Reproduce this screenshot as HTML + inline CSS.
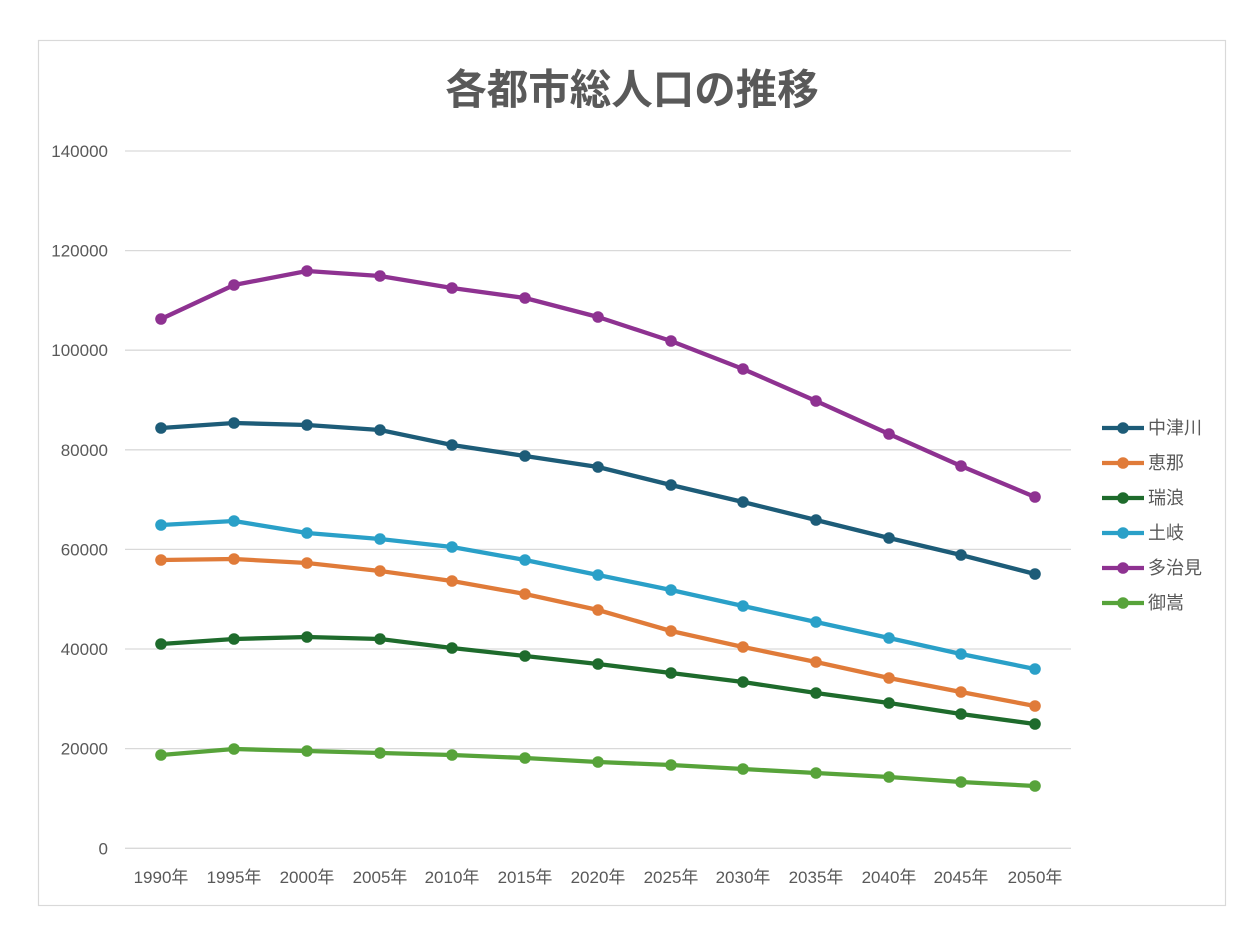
<!DOCTYPE html>
<html>
<head>
<meta charset="utf-8">
<style>
  html,body{margin:0;padding:0;background:#fff;}
  svg{display:block;}
  text{font-family:"Liberation Sans","Noto Sans CJK JP",sans-serif;fill:#595959;}
</style>
</head>
<body>
<svg width="1247" height="930" viewBox="0 0 1247 930" xmlns="http://www.w3.org/2000/svg">
  <rect x="0" y="0" width="1247" height="930" fill="#fff"/>
  <rect x="38.5" y="40.5" width="1187" height="865" fill="#fff" stroke="#d9d9d9" stroke-width="1.2"/>
  <text x="632" y="104" text-anchor="middle" font-size="41.5" font-weight="bold" style="font-family:'Noto Sans CJK JP','Liberation Sans',sans-serif;fill:#595959">各都市総人口の推移</text>

  <g stroke="#d9d9d9" stroke-width="1.3">
    <line x1="125" y1="151" x2="1071" y2="151"/>
    <line x1="125" y1="250.6" x2="1071" y2="250.6"/>
    <line x1="125" y1="350.2" x2="1071" y2="350.2"/>
    <line x1="125" y1="449.8" x2="1071" y2="449.8"/>
    <line x1="125" y1="549.4" x2="1071" y2="549.4"/>
    <line x1="125" y1="649" x2="1071" y2="649"/>
    <line x1="125" y1="748.6" x2="1071" y2="748.6"/>
    <line x1="125" y1="848.3" x2="1071" y2="848.3"/>
  </g>

  <g font-size="17" text-anchor="end">
    <text x="108" y="157">140000</text>
    <text x="108" y="256.6">120000</text>
    <text x="108" y="356.2">100000</text>
    <text x="108" y="455.8">80000</text>
    <text x="108" y="555.4">60000</text>
    <text x="108" y="655">40000</text>
    <text x="108" y="754.6">20000</text>
    <text x="108" y="854.3">0</text>
  </g>

  <g font-size="17" text-anchor="middle">
    <text x="161" y="883">1990年</text>
    <text x="234" y="883">1995年</text>
    <text x="307" y="883">2000年</text>
    <text x="380" y="883">2005年</text>
    <text x="452" y="883">2010年</text>
    <text x="525" y="883">2015年</text>
    <text x="598" y="883">2020年</text>
    <text x="671" y="883">2025年</text>
    <text x="743" y="883">2030年</text>
    <text x="816" y="883">2035年</text>
    <text x="889" y="883">2040年</text>
    <text x="961" y="883">2045年</text>
    <text x="1035" y="883">2050年</text>
  </g>

  <!-- series -->
  <g fill="none" stroke-width="4.3" stroke-linejoin="round">
    <polyline stroke="#8e3291" points="161,319 234,285 307,271 380,276 452,288 525,298 598,317 671,341 743,369 816,401 889,434 961,466 1035,497"/>
    <polyline stroke="#1d5c78" points="161,428 234,423 307,425 380,430 452,445 525,456 598,467 671,485 743,502 816,520 889,538 961,555 1035,574"/>
    <polyline stroke="#2aa0c8" points="161,525 234,521 307,533 380,539 452,547 525,560 598,575 671,590 743,606 816,622 889,638 961,654 1035,669"/>
    <polyline stroke="#e07b39" points="161,560 234,559 307,563 380,571 452,581 525,594 598,610 671,631 743,647 816,662 889,678 961,692 1035,706"/>
    <polyline stroke="#1e6b2c" points="161,644 234,639 307,637 380,639 452,648 525,656 598,664 671,673 743,682 816,693 889,703 961,714 1035,724"/>
    <polyline stroke="#57a33a" points="161,755 234,749 307,751 380,753 452,755 525,758 598,762 671,765 743,769 816,773 889,777 961,782 1035,786"/>
  </g>
  <g fill="#8e3291">
    <circle cx="161" cy="319" r="5.8"/><circle cx="234" cy="285" r="5.8"/><circle cx="307" cy="271" r="5.8"/><circle cx="380" cy="276" r="5.8"/><circle cx="452" cy="288" r="5.8"/><circle cx="525" cy="298" r="5.8"/><circle cx="598" cy="317" r="5.8"/><circle cx="671" cy="341" r="5.8"/><circle cx="743" cy="369" r="5.8"/><circle cx="816" cy="401" r="5.8"/><circle cx="889" cy="434" r="5.8"/><circle cx="961" cy="466" r="5.8"/><circle cx="1035" cy="497" r="5.8"/>
  </g>
  <g fill="#1d5c78">
    <circle cx="161" cy="428" r="5.8"/><circle cx="234" cy="423" r="5.8"/><circle cx="307" cy="425" r="5.8"/><circle cx="380" cy="430" r="5.8"/><circle cx="452" cy="445" r="5.8"/><circle cx="525" cy="456" r="5.8"/><circle cx="598" cy="467" r="5.8"/><circle cx="671" cy="485" r="5.8"/><circle cx="743" cy="502" r="5.8"/><circle cx="816" cy="520" r="5.8"/><circle cx="889" cy="538" r="5.8"/><circle cx="961" cy="555" r="5.8"/><circle cx="1035" cy="574" r="5.8"/>
  </g>
  <g fill="#2aa0c8">
    <circle cx="161" cy="525" r="5.8"/><circle cx="234" cy="521" r="5.8"/><circle cx="307" cy="533" r="5.8"/><circle cx="380" cy="539" r="5.8"/><circle cx="452" cy="547" r="5.8"/><circle cx="525" cy="560" r="5.8"/><circle cx="598" cy="575" r="5.8"/><circle cx="671" cy="590" r="5.8"/><circle cx="743" cy="606" r="5.8"/><circle cx="816" cy="622" r="5.8"/><circle cx="889" cy="638" r="5.8"/><circle cx="961" cy="654" r="5.8"/><circle cx="1035" cy="669" r="5.8"/>
  </g>
  <g fill="#e07b39">
    <circle cx="161" cy="560" r="5.8"/><circle cx="234" cy="559" r="5.8"/><circle cx="307" cy="563" r="5.8"/><circle cx="380" cy="571" r="5.8"/><circle cx="452" cy="581" r="5.8"/><circle cx="525" cy="594" r="5.8"/><circle cx="598" cy="610" r="5.8"/><circle cx="671" cy="631" r="5.8"/><circle cx="743" cy="647" r="5.8"/><circle cx="816" cy="662" r="5.8"/><circle cx="889" cy="678" r="5.8"/><circle cx="961" cy="692" r="5.8"/><circle cx="1035" cy="706" r="5.8"/>
  </g>
  <g fill="#1e6b2c">
    <circle cx="161" cy="644" r="5.8"/><circle cx="234" cy="639" r="5.8"/><circle cx="307" cy="637" r="5.8"/><circle cx="380" cy="639" r="5.8"/><circle cx="452" cy="648" r="5.8"/><circle cx="525" cy="656" r="5.8"/><circle cx="598" cy="664" r="5.8"/><circle cx="671" cy="673" r="5.8"/><circle cx="743" cy="682" r="5.8"/><circle cx="816" cy="693" r="5.8"/><circle cx="889" cy="703" r="5.8"/><circle cx="961" cy="714" r="5.8"/><circle cx="1035" cy="724" r="5.8"/>
  </g>
  <g fill="#57a33a">
    <circle cx="161" cy="755" r="5.8"/><circle cx="234" cy="749" r="5.8"/><circle cx="307" cy="751" r="5.8"/><circle cx="380" cy="753" r="5.8"/><circle cx="452" cy="755" r="5.8"/><circle cx="525" cy="758" r="5.8"/><circle cx="598" cy="762" r="5.8"/><circle cx="671" cy="765" r="5.8"/><circle cx="743" cy="769" r="5.8"/><circle cx="816" cy="773" r="5.8"/><circle cx="889" cy="777" r="5.8"/><circle cx="961" cy="782" r="5.8"/><circle cx="1035" cy="786" r="5.8"/>
  </g>

  <!-- legend -->
  <g stroke-width="4.3">
    <line x1="1102" y1="428" x2="1144" y2="428" stroke="#1d5c78"/>
    <line x1="1102" y1="463" x2="1144" y2="463" stroke="#e07b39"/>
    <line x1="1102" y1="498" x2="1144" y2="498" stroke="#1e6b2c"/>
    <line x1="1102" y1="533" x2="1144" y2="533" stroke="#2aa0c8"/>
    <line x1="1102" y1="568" x2="1144" y2="568" stroke="#8e3291"/>
    <line x1="1102" y1="603" x2="1144" y2="603" stroke="#57a33a"/>
  </g>
  <circle cx="1123" cy="428" r="5.8" fill="#1d5c78"/>
  <circle cx="1123" cy="463" r="5.8" fill="#e07b39"/>
  <circle cx="1123" cy="498" r="5.8" fill="#1e6b2c"/>
  <circle cx="1123" cy="533" r="5.8" fill="#2aa0c8"/>
  <circle cx="1123" cy="568" r="5.8" fill="#8e3291"/>
  <circle cx="1123" cy="603" r="5.8" fill="#57a33a"/>
  <g font-size="18">
    <text x="1148" y="434">中津川</text>
    <text x="1148" y="469">恵那</text>
    <text x="1148" y="504">瑞浪</text>
    <text x="1148" y="539">土岐</text>
    <text x="1148" y="574">多治見</text>
    <text x="1148" y="609">御嵩</text>
  </g>
</svg>
</body>
</html>
